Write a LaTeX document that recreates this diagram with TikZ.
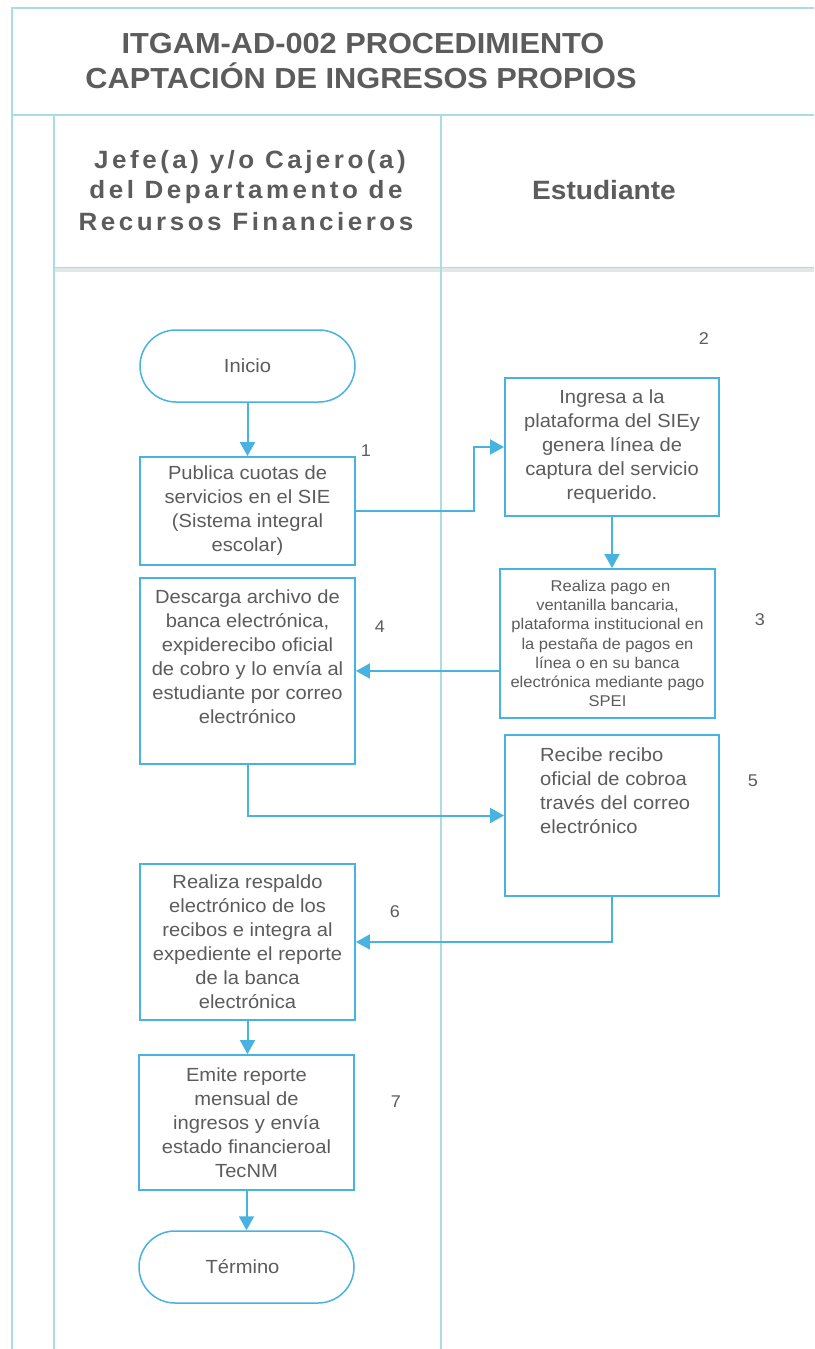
\documentclass[tikz,border=0pt]{standalone}
\usepackage{fontspec}
\setmainfont{Liberation Sans}[FakeStretch=1.06]
\newfontfamily\hdrfont{Liberation Sans}[FakeStretch=1.04, LetterSpace=14]
\usetikzlibrary{arrows.meta}
\definecolor{lane}{HTML}{A9DCE3}
\definecolor{flow}{HTML}{48B2E0}
\definecolor{ink}{HTML}{5C5C5C}
\definecolor{hdrshade}{HTML}{E0E8E8}
\begin{document}
\begin{tikzpicture}[x=1pt,y=-1pt,
  box/.style={draw=flow, line width=1.9pt, minimum width=215pt, inner sep=0pt, text=ink, font=\fontsize{19}{24}\selectfont, align=center},
  txt/.style={inner sep=0pt, text=ink, font=\fontsize{19}{24}\selectfont},
  term/.style={draw=flow, line width=1.5pt, rounded corners=36pt, minimum width=215pt, minimum height=72pt, inner sep=0pt, text=ink, font=\fontsize{19}{24}\selectfont},
  flowarrow/.style={draw=flow, line width=2pt, -{Triangle[length=14pt,width=15pt]}},
  num/.style={inner sep=0pt, text=ink, font=\fontsize{17}{20}\selectfont},
  laneline/.style={draw=lane, line width=1.5pt},
  titletxt/.style={inner sep=0pt, text=ink, font=\fontsize{29}{34}\selectfont\bfseries},
  hdrtxt/.style={inner sep=0pt, text=ink, font=\hdrfont\fontsize{25}{31.5}\selectfont\bfseries},
]
\useasboundingbox (0,0) rectangle (814,1349);
\fill[white] (0,0) rectangle (814,1349);
% frame and lanes
\draw[draw=hdrshade, line width=5pt] (54,269.5) -- (814,269.5);
\draw[laneline] (12,1349) -- (12,8) -- (814,8);
\draw[laneline] (12,115) -- (814,115);
\draw[laneline] (54,115) -- (54,1349);
\draw[laneline] (441,115) -- (441,1349);
\draw[laneline, line width=1pt] (54,267) -- (814,267);
% title
\node[titletxt, anchor=base] (title1) at (363,53) {ITGAM-AD-002 PROCEDIMIENTO};
\node[titletxt, anchor=base] (title2) at (361,88) {CAPTACIÓN DE INGRESOS PROPIOS};
% lane headers
\node[hdrtxt, anchor=base] (hdrA1) at (250,168) {Jefe(a) y/o Cajero(a)};
\node[hdrtxt, anchor=base] (hdrA2) at (246,198) {del Departamento de};
\node[hdrtxt, anchor=base] (hdrA3) at (246,230) {Recursos Financieros};
\node[inner sep=0pt, text=ink, font=\fontsize{26.5}{30}\selectfont\bfseries, anchor=base] (hdrB) at (604,199) {Estudiante};
% nodes
\node[term] (ini) at (247.5,366) {Inicio};
\node[box, minimum height=108pt] (b1) at (247.5,511) {Publica cuotas de\\servicios en el SIE\\(Sistema integral\\escolar)};
\node[box, minimum width=214pt, minimum height=138pt] (b2) at (612,447) {Ingresa a la\\plataforma del SIEy\\genera línea de\\captura del servicio\\requerido.};
\node[box, minimum height=149pt, font=\fontsize{15.6}{19.3}\selectfont] (b3) at (607.5,643.5) {\hspace*{6pt}Realiza pago en\\ventanilla bancaria,\\plataforma institucional en\\la pestaña de pagos en\\línea o en su banca\\electrónica mediante pago\\SPEI};
\node[box, minimum height=186pt] (b4) at (247.5,671) {};
\node[txt, align=center] (b4t) at (247.5,657) {Descarga archivo de\\banca electrónica,\\expiderecibo oficial\\de cobro y lo envía al\\estudiante por correo\\electrónico};
\node[box, minimum width=214pt, minimum height=161pt] (b5) at (612,815.5) {};
\node[txt, align=left, anchor=west] (b5t) at (540,791) {Recibe recibo\\oficial de cobroa\\través del correo\\electrónico};
\node[box, minimum height=156pt] (b6) at (247.5,942) {Realiza respaldo\\electrónico de los\\recibos e integra al\\expediente el reporte\\de la banca\\electrónica};
\node[box, minimum height=135pt] (b7) at (246.5,1122.5) {Emite reporte\\mensual de\\ingresos y envía\\estado financieroal\\TecNM};
\node[term] (fin) at (246.5,1267) {\hspace*{-8pt}Término};
% step numbers
\node[num] (n1) at (366,451) {1};
\node[num] (n2) at (704,339) {2};
\node[num] (n3) at (760,620) {3};
\node[num] (n4) at (380,627) {4};
\node[num] (n5) at (753,781) {5};
\node[num] (n6) at (395,912) {6};
\node[num] (n7) at (396,1102) {7};
% connectors
\draw[flowarrow] (ini) -- (b1);
\draw[flowarrow] (b1.east) -- ++(118,0) |- (b2.west);
\draw[flowarrow] (b2.south) -- (b2.south |- b3.north);
\draw[flowarrow] (b3.west |- b4.east) -- (b4.east);
\draw[flowarrow] (b4.south) |- (b5.west);
\draw[flowarrow] (b5.south) |- (b6.east);
\draw[flowarrow] (b6.south) -- (b6.south |- b7.north);
\draw[flowarrow] (b7) -- (fin);
\end{tikzpicture}
\end{document}
